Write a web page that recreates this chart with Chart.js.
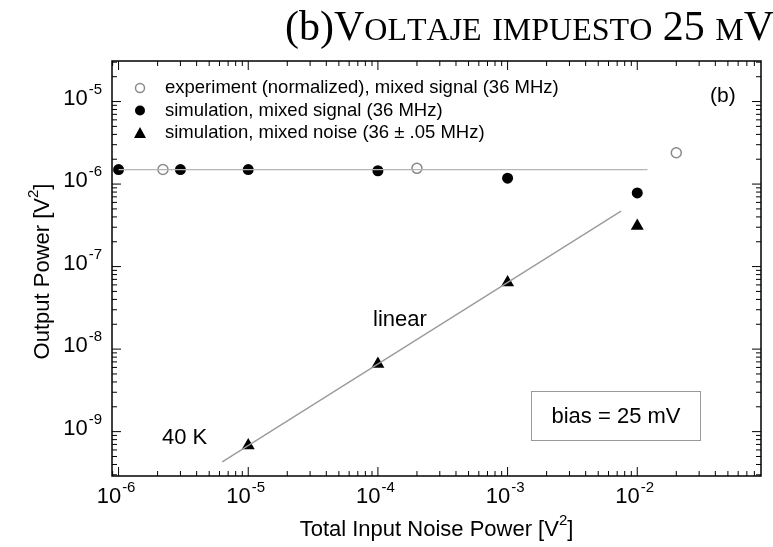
<!DOCTYPE html>
<html>
<head>
<meta charset="utf-8">
<script src="https://cdn.jsdelivr.net/npm/chart.js@4.4.1/dist/chart.umd.min.js"></script>
<style>
  body { margin: 0; background: #fff; }
  #wrap { width: 773px; height: 547px; position: relative; }
</style>
</head>
<body>
<div id="wrap"><canvas id="powerGraph"></canvas></div>
<script>
// values
const signalX = [1e-6, 3e-6, 1e-5, 1e-4, 1e-3, 1e-2];
const signalY = [1.5e-6, 1.5e-6, 1.5e-6, 1.45e-6, 1.18e-6, 7.8e-7];

const experimentX = [2.2e-6, 2e-4, 2e-2];
const experimentY = [1.5e-6, 1.55e-6, 2.4e-6];

const noiseX = [1e-5, 1e-4, 1e-3, 1e-2];
const noiseY = [6.8e-10, 6.6e-9, 6.4e-8, 3.1e-7];

const flatLineX = [1e-6, 1.2e-2];
const flatLineY = [1.5e-6, 1.5e-6];

const linearLineX = [6.3e-6, 7.5e-3];
const linearLineY = [4.3e-10, 4.7e-7];

const xDecades = [-6, -5, -4, -3, -2];
const yDecades = [-9, -8, -7, -6, -5];

const legendLabels = [
    'experiment (normalized), mixed signal (36 MHz)',
    'simulation, mixed signal (36 MHz)',
    'simulation, mixed noise (36 \u00b1 .05 MHz)'
];

function toPoints(xs, ys) {
    return xs.map((x, i) => ({x: x, y: ys[i]}));
}

const SANS = '"Liberation Sans", Arial, sans-serif';
const SERIF = '"Liberation Serif", "Times New Roman", serif';

function drawPower(ctx, x, y, exp, align) {
    // "10" with a raised exponent
    ctx.font = '22px ' + SANS;
    const base = '10';
    const wb = ctx.measureText(base).width;
    ctx.font = '15px ' + SANS;
    const sup = '-' + Math.abs(exp);
    const ws = ctx.measureText(sup).width;
    let left = align === 'right' ? x - wb - ws : x - (wb + ws) / 2;
    ctx.textAlign = 'left';
    ctx.textBaseline = 'middle';
    ctx.font = '22px ' + SANS;
    ctx.fillText(base, left, y);
    ctx.font = '15px ' + SANS;
    ctx.fillText(sup, left + wb + 1, y - 9);
}

function marker(ctx, kind, x, y) {
    ctx.save();
    if (kind === 'open') {
        ctx.strokeStyle = '#8a8a8a';
        ctx.lineWidth = 1.5;
        ctx.beginPath(); ctx.arc(x, y, 4.5, 0, Math.PI * 2); ctx.stroke();
    } else if (kind === 'dot') {
        ctx.fillStyle = '#000';
        ctx.beginPath(); ctx.arc(x, y, 5, 0, Math.PI * 2); ctx.fill();
    } else {
        ctx.fillStyle = '#000';
        ctx.beginPath();
        ctx.moveTo(x, y - 6); ctx.lineTo(x + 6, y + 5); ctx.lineTo(x - 6, y + 5);
        ctx.closePath(); ctx.fill();
    }
    ctx.restore();
}

// with a superscript 2 after "[V"
function titleWithSquare(ctx, text, cx, by) {
    ctx.font = '22px ' + SANS;
    const w1 = ctx.measureText(text).width;
    const w3 = ctx.measureText(']').width;
    ctx.font = '15px ' + SANS;
    const w2 = ctx.measureText('2').width;
    const sx = cx - (w1 + w2 + w3) / 2;
    ctx.font = '22px ' + SANS;
    ctx.fillText(text, sx, by);
    ctx.fillText(']', sx + w1 + w2, by);
    ctx.font = '15px ' + SANS;
    ctx.fillText('2', sx + w1, by - 11);
}

const decorPlugin = {
    id: 'decor',
    afterDraw(chart) {
        const ctx = chart.ctx;
        const a = chart.chartArea;
        const xs = chart.scales.x, ys = chart.scales.y;
        ctx.save();

        // frame
        ctx.strokeStyle = '#000';
        ctx.lineWidth = 1.5;
        ctx.strokeRect(a.left, a.top, a.right - a.left, a.bottom - a.top);

        // inward ticks on all four sides
        ctx.lineWidth = 1;
        ctx.beginPath();
        for (let d = -7; d <= -1; d++) {
            for (let m = 1; m <= 9; m++) {
                const v = m * Math.pow(10, d);
                const len = m === 1 ? 9 : 5;
                const px = xs.getPixelForValue(v);
                if (px > a.left + 0.5 && px < a.right - 0.5) {
                    ctx.moveTo(px, a.bottom); ctx.lineTo(px, a.bottom - len);
                    ctx.moveTo(px, a.top); ctx.lineTo(px, a.top + len);
                }
            }
        }
        for (let d = -11; d <= -4; d++) {
            for (let m = 1; m <= 9; m++) {
                const v = m * Math.pow(10, d);
                const len = m === 1 ? 9 : 5;
                const py = ys.getPixelForValue(v);
                if (py > a.top + 0.5 && py < a.bottom - 0.5) {
                    ctx.moveTo(a.left, py); ctx.lineTo(a.left + len, py);
                    ctx.moveTo(a.right, py); ctx.lineTo(a.right - len, py);
                }
            }
        }
        ctx.stroke();

        // tick labels
        ctx.fillStyle = '#000';
        xDecades.forEach(d => drawPower(ctx, xs.getPixelForValue(Math.pow(10, d)) - 3, a.bottom + 21, d, 'center'));
        yDecades.forEach(d => drawPower(ctx, a.left - 11, ys.getPixelForValue(Math.pow(10, d)) - 3, d, 'right'));

        // axis titles
        ctx.textAlign = 'left';
        ctx.textBaseline = 'alphabetic';
        titleWithSquare(ctx, 'Total Input Noise Power [V', (a.left + a.right) / 2, 536);
        ctx.save();
        ctx.translate(49, (a.top + a.bottom) / 2 + 3);
        ctx.rotate(-Math.PI / 2);
        titleWithSquare(ctx, 'Output Power [V', 0, 0);
        ctx.restore();

        // legend inside the plot
        const kinds = ['open', 'dot', 'tri'];
        ctx.font = '18.5px ' + SANS;
        ctx.textBaseline = 'middle';
        legendLabels.forEach((lab, i) => {
            const ly = 88 + i * 22.5;
            marker(ctx, kinds[i], 140, ly);
            ctx.fillStyle = '#000';
            ctx.fillText(lab, 165, ly);
        });

        // annotations
        ctx.font = '21px ' + SANS;
        ctx.fillText('(b)', 710, 96);
        ctx.font = '22px ' + SANS;
        ctx.fillText('linear', 373, 320);
        ctx.fillText('40 K', 162, 438);

        ctx.strokeStyle = '#999';
        ctx.lineWidth = 1;
        ctx.strokeRect(531.5, 391.5, 169, 49);
        ctx.fillStyle = '#000';
        ctx.textAlign = 'center';
        ctx.fillText('bias = 25 mV', 616, 417);

        // small caps title
        const big = 42, small = 32;
        const parts = [
            ['(b)', big], ['V', big], ['OLTAJE', small], [' ', big], ['IMPUESTO', small],
            [' ', big], ['25', big], [' ', big], ['M', small], ['V', big]
        ];
        ctx.textAlign = 'left';
        ctx.textBaseline = 'alphabetic';
        let total = 0;
        parts.forEach(p => { ctx.font = p[1] + 'px ' + SERIF; total += ctx.measureText(p[0]).width; });
        const gap = (768 - 285 - total) / 27;
        let tx = 285;
        parts.forEach(p => {
            ctx.font = p[1] + 'px ' + SERIF;
            for (const ch of p[0]) {
                ctx.fillText(ch, tx, 40);
                tx += ctx.measureText(ch).width + gap;
            }
        });

        ctx.restore();
    }
};

const powerGraphConfig = {
    type: 'scatter',
    data: {
        datasets: [{
            label: 'flat',
            data: toPoints(flatLineX, flatLineY),
            showLine: true,
            borderColor: '#b5b5b5',
            borderWidth: 1.3,
            pointRadius: 0
        },
        {
            label: 'linear',
            data: toPoints(linearLineX, linearLineY),
            showLine: true,
            borderColor: '#9a9a9a',
            borderWidth: 1.3,
            pointRadius: 0
        },
        {
            label: legendLabels[0],
            data: toPoints(experimentX, experimentY),
            pointStyle: 'circle',
            pointRadius: 5,
            backgroundColor: '#fff',
            borderColor: '#8a8a8a',
            borderWidth: 1.5
        },
        {
            label: legendLabels[1],
            data: toPoints(signalX, signalY),
            pointStyle: 'circle',
            pointRadius: 5.5,
            backgroundColor: '#000',
            borderColor: '#000',
            borderWidth: 0
        },
        {
            label: legendLabels[2],
            data: toPoints(noiseX, noiseY),
            pointStyle: 'triangle',
            pointRadius: 7.5,
            backgroundColor: '#000',
            borderColor: '#000',
            borderWidth: 0
        }]
    },
    options: {
        responsive: true,
        maintainAspectRatio: false,
        animation: false,
        clip: false,
        layout: { padding: { top: 61, right: 12, left: 0, bottom: 0 } },
        plugins: {
            legend: { display: false },
            tooltip: { enabled: false },
            title: { display: false }
        },
        scales: {
            x: {
                type: 'logarithmic',
                min: 8.9e-7,
                max: 0.09,
                ticks: { display: false },
                grid: { display: false },
                border: { display: false },
                afterFit: s => { s.height = 71; }
            },
            y: {
                type: 'logarithmic',
                min: 2.9e-10,
                max: 3.1e-5,
                ticks: { display: false },
                grid: { display: false },
                border: { display: false },
                afterFit: s => { s.width = 112; }
            }
        }
    },
    plugins: [decorPlugin]
};

var powerChart = new Chart(document.getElementById('powerGraph'), powerGraphConfig);
</script>
</body>
</html>
